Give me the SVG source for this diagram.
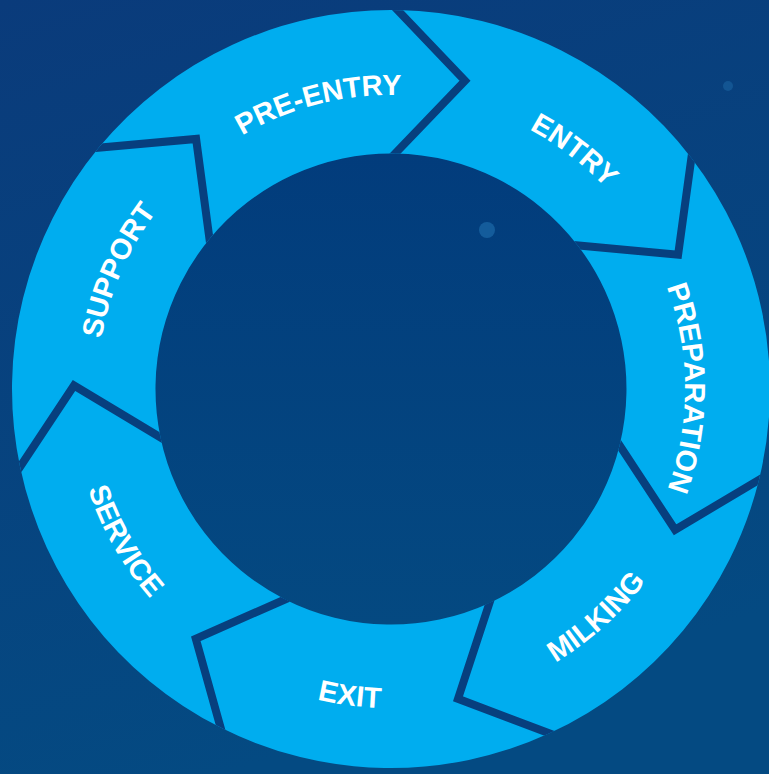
<svg xmlns="http://www.w3.org/2000/svg" xmlns:xlink="http://www.w3.org/1999/xlink" width="769" height="774" viewBox="0 0 769 774">
  <defs>
    <linearGradient id="bg" x1="0" y1="0" x2="0.3" y2="1">
      <stop offset="0" stop-color="#0a3b7b"/>
      <stop offset="1" stop-color="#044a82"/>
    </linearGradient>
    <linearGradient id="hub" x1="0" y1="0" x2="0" y2="1">
      <stop offset="0" stop-color="#023c7c"/>
      <stop offset="1" stop-color="#044981"/>
    </linearGradient>
    <clipPath id="ringClip">
      <path clip-rule="evenodd" d="M12,389 A379,379 0 1 0 770,389 A379,379 0 1 0 12,389 Z M155.5,389 A235.5,235.5 0 1 0 626.5,389 A235.5,235.5 0 1 0 155.5,389 Z"/>
    </clipPath>
    <path id="arcCW" d="M136.4,242 A294,294 0 0 1 645.6,242"/>
    <path id="arcCCW" d="M114.7,548.5 A319,319 0 0 0 667.3,548.5"/>
  </defs>
  <style>
    .seg { fill: #00adef; }
    .lbl { fill: #ffffff; font-family: "Liberation Sans", Arial, Helvetica, sans-serif; font-weight: bold; font-size: 29px; text-anchor: middle; }
    .sep { fill: none; stroke: #073f7e; stroke-width: 8; stroke-linejoin: miter; stroke-miterlimit: 10; }
  </style>

  <g id="background">
    <rect x="0" y="0" width="769" height="774" fill="url(#bg)"/>
    <circle cx="391" cy="389" r="236" fill="url(#hub)"/>
    <circle cx="487" cy="230" r="8" fill="#1d69a8" opacity="0.7"/>
    <circle cx="728" cy="86" r="5" fill="#1d69a8" opacity="0.5"/>
  </g>

  <g id="node-entry">
    <path class="seg" d="M397.6,10.1 A379,379 0 0 1 691.4,157.9 L678.1,254.7 L577.7,245.4 A235.5,235.5 0 0 0 395.1,153.5 L465.0,80.8 Z"/>
    <text class="lbl" transform="rotate(37.5 391 389)"><textPath href="#arcCW" xlink:href="#arcCW" startOffset="50%">ENTRY</textPath></text>
  </g>
  <g id="node-preparation">
    <path class="seg" d="M691.4,157.9 A379,379 0 0 1 759.0,479.8 L675.1,529.8 L619.6,445.4 A235.5,235.5 0 0 0 577.7,245.4 L678.1,254.7 Z"/>
    <text class="lbl" transform="rotate(89.8 391 389)"><textPath href="#arcCW" xlink:href="#arcCW" startOffset="50%">PREPARATION</textPath></text>
  </g>
  <g id="node-milking">
    <path class="seg" d="M759.0,479.8 A379,379 0 0 1 549.4,733.3 L458.0,698.8 L489.5,603.0 A235.5,235.5 0 0 0 619.6,445.4 L675.1,529.8 Z"/>
    <text class="lbl" transform="rotate(-42 391 389)"><textPath href="#arcCCW" xlink:href="#arcCCW" startOffset="50%">MILKING</textPath></text>
  </g>
  <g id="node-exit">
    <path class="seg" d="M549.4,733.3 A379,379 0 0 1 220.6,727.6 L195.8,638.8 L285.1,599.4 A235.5,235.5 0 0 0 489.5,603.0 L458.0,698.8 Z"/>
    <text class="lbl" transform="rotate(7.6 391 389)"><textPath href="#arcCCW" xlink:href="#arcCCW" startOffset="50%">EXIT</textPath></text>
  </g>
  <g id="node-service">
    <path class="seg" d="M220.6,727.6 A379,379 0 0 1 20.1,466.9 L74.0,385.5 L160.5,437.4 A235.5,235.5 0 0 0 285.1,599.4 L195.8,638.8 Z"/>
    <text class="lbl" transform="rotate(60.3 391 389)"><textPath href="#arcCCW" xlink:href="#arcCCW" startOffset="50%">SERVICE</textPath></text>
  </g>
  <g id="node-support">
    <path class="seg" d="M20.1,466.9 A379,379 0 0 1 98.8,147.6 L196.1,138.9 L209.5,239.0 A235.5,235.5 0 0 0 160.5,437.4 L74.0,385.5 Z"/>
    <text class="lbl" transform="rotate(-66.5 391 389)"><textPath href="#arcCW" xlink:href="#arcCW" startOffset="50%">SUPPORT</textPath></text>
  </g>
  <g id="node-pre-entry">
    <path class="seg" d="M98.8,147.6 A379,379 0 0 1 397.6,10.1 L465.0,80.8 L395.1,153.5 A235.5,235.5 0 0 0 209.5,239.0 L196.1,138.9 Z"/>
    <text class="lbl" transform="rotate(-14.2 391 389)"><textPath href="#arcCW" xlink:href="#arcCW" startOffset="50%">PRE-ENTRY</textPath></text>
  </g>

  <g id="separators" clip-path="url(#ringClip)">
    <polyline class="sep" points="387.5,-0.5 465.0,80.8 384.6,164.4"/>
    <polyline class="sep" points="693.4,143.4 678.1,254.7 562.6,244.0"/>
    <polyline class="sep" points="771.6,472.3 675.1,529.8 611.3,432.7"/>
    <polyline class="sep" points="563.1,738.5 458.0,698.8 494.2,588.6"/>
    <polyline class="sep" points="224.3,740.9 195.8,638.8 298.5,593.5"/>
    <polyline class="sep" points="12.0,479.1 74.0,385.5 173.5,445.2"/>
    <polyline class="sep" points="84.2,148.9 196.1,138.9 211.5,254.0"/>
  </g>
</svg>
